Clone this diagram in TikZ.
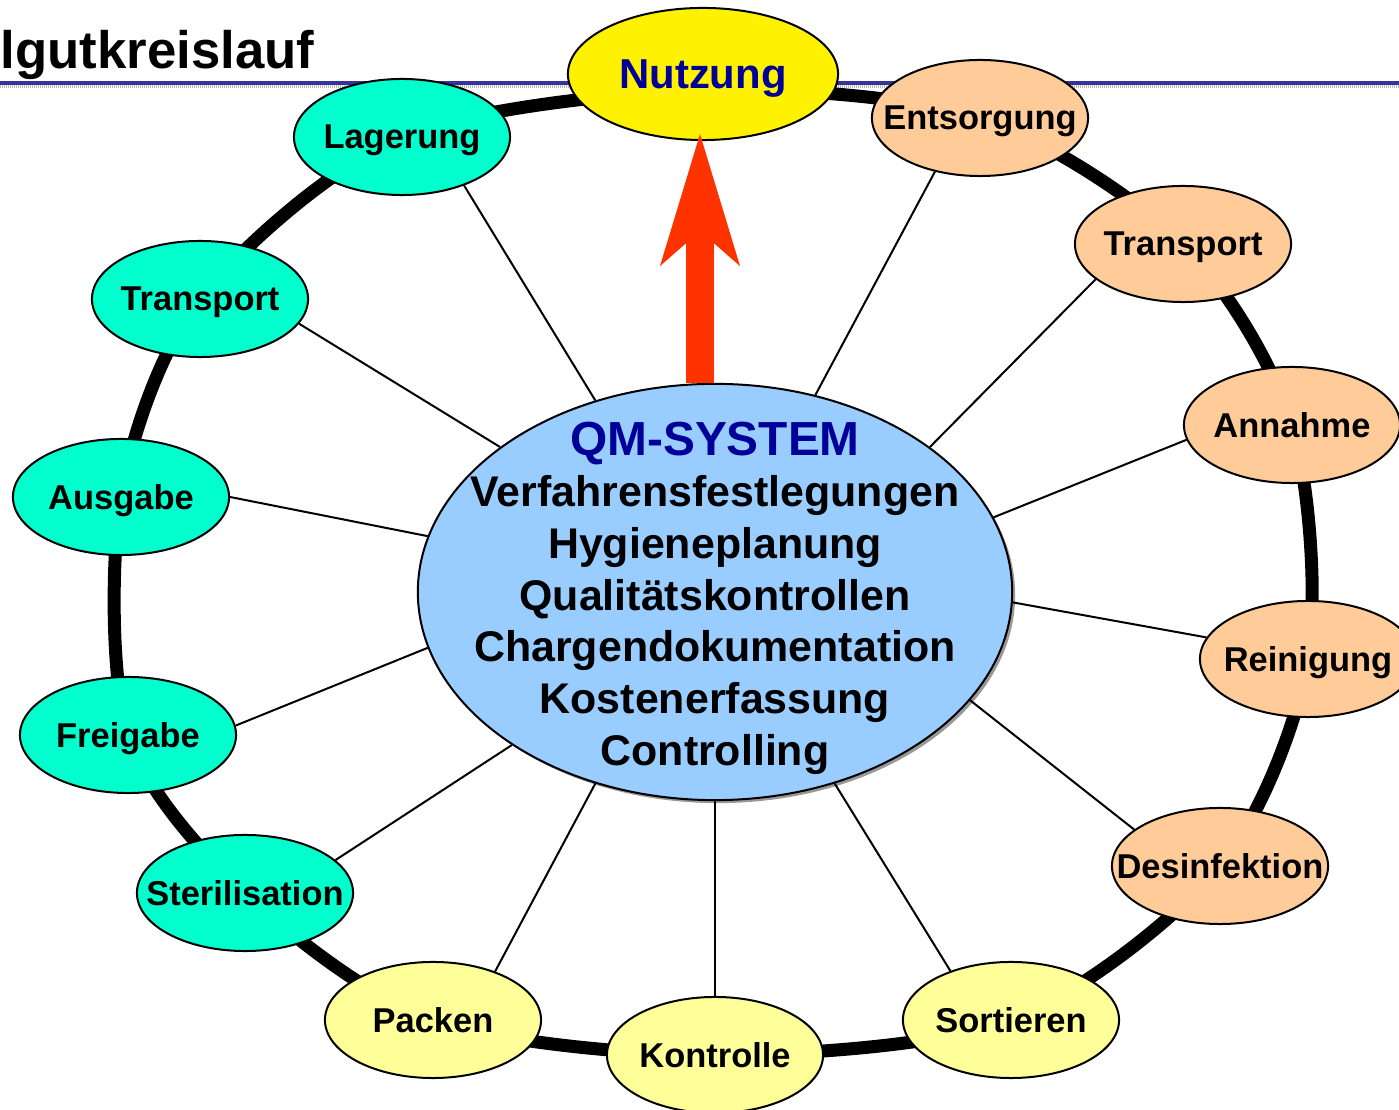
\documentclass[tikz,border=0pt]{standalone}
\usepackage{fontspec}
\setmainfont{Liberation Sans}
\usetikzlibrary{shapes.geometric,arrows.meta,shadows}

\definecolor{mint}{HTML}{00FFCC}
\definecolor{peach}{HTML}{FFCC99}
\definecolor{paleyellow}{HTML}{FFFF99}
\definecolor{qmfill}{HTML}{99CCFF}
\definecolor{qmblue}{HTML}{000099}
\definecolor{headblue}{HTML}{333399}
\definecolor{arrowred}{HTML}{FF3300}

\tikzset{
  station/.style={ellipse, draw=black, line width=0.02cm, inner xsep=-1cm, inner ysep=-0.3cm,
    minimum width=2.16cm, minimum height=1.16cm, text depth=0pt,
    font=\fontsize{9.8}{11}\selectfont\bfseries},
  ring/.style={line width=0.13cm},
  spoke/.style={line width=0.02cm}
}

\begin{document}
\begin{tikzpicture}[x=0.01cm, y=-0.01cm]
  \useasboundingbox (0,0) rectangle (1399,1110);

  % title and header rule
  \node[anchor=base west, inner sep=0pt, font=\fontsize{15}{18}\selectfont\bfseries]
    (title) at (0,69) {lgutkreislauf};
  \draw[headblue, line width=0.04cm] (0,83) -- (1399,83);
  \draw[gray!55, line width=0.03cm, dash pattern=on 0.01cm off 0.01cm] (0,87) -- (1399,87);

  % ring positions
  \coordinate (pnutz) at (703,90);
  \coordinate (pents) at (980,118);
  \coordinate (ptrr) at (1183,244);
  \coordinate (pann) at (1292,425);
  \coordinate (prein) at (1308,659);
  \coordinate (pdes) at (1220,866);
  \coordinate (psort) at (1011,1020);
  \coordinate (pkont) at (715,1055);
  \coordinate (ppack) at (433,1020);
  \coordinate (pster) at (245,893);
  \coordinate (pfrei) at (128,735);
  \coordinate (pausg) at (121,497);
  \coordinate (ptrl) at (200,299);
  \coordinate (plag) at (402,137);

  \draw[ring] plot[smooth cycle] coordinates {(pnutz) (pents) (ptrr) (pann) (prein)
    (pdes) (psort) (pkont) (ppack) (pster) (pfrei) (pausg) (ptrl) (plag)};

  % centre
  \node[ellipse, draw=black, line width=0.02cm, fill=qmfill, inner sep=0pt,
    minimum width=5.94cm, minimum height=4.16cm,
    drop shadow={shadow xshift=0.03cm, shadow yshift=-0.03cm, fill=gray!80, opacity=1}]
    (qm) at (715,592) {};
  \node[align=center, inner sep=0pt, font=\fontsize{12.2}{14.7}\selectfont\bfseries]
    (qmtext) at ([yshift=-0.06cm]qm.center)
    {{\fontsize{13.6}{14.7}\selectfont\color{qmblue}QM-SYSTEM}\\
     Verfahrensfestlegungen\\ Hygieneplanung\\ Qualitätskontrollen\\
     Chargendokumentation\\ Kostenerfassung\\ Controlling};

  % stations
  \node[station, fill=yellow, minimum width=2.7cm, minimum height=1.32cm,
    font=\fontsize{11.9}{13}\selectfont\bfseries\color{qmblue}] (nutz) at (703,74) {Nutzung};
  \node[station, fill=peach] (ents) at (pents) {Entsorgung};
  \node[station, fill=peach] (trr) at (ptrr) {Transport};
  \node[station, fill=peach] (ann) at (pann) {Annahme};
  \node[station, fill=peach] (rein) at (prein) {Reinigung};
  \node[station, fill=peach] (des) at (pdes) {Desinfektion};
  \node[station, fill=paleyellow] (sort) at (psort) {Sortieren};
  \node[station, fill=paleyellow] (kont) at (pkont) {Kontrolle};
  \node[station, fill=paleyellow] (pack) at (ppack) {Packen};
  \node[station, fill=mint] (ster) at (pster) {Sterilisation};
  \node[station, fill=mint] (frei) at (pfrei) {Freigabe};
  \node[station, fill=mint] (ausg) at (pausg) {Ausgabe};
  \node[station, fill=mint] (trl) at (ptrl) {Transport};
  \node[station, fill=mint] (lag) at (plag) {Lagerung};

  % spokes: station / angle at qm / angle at station
  \foreach \s/\a/\b in
    {
        lag/122.2/-38.7, ents/63.1/230.2, trr/34.4/202.2, ann/15/188.7,
        rein/-2.9/168, des/-23.9/157, sort/-58.1/141.6, kont/-90/90,
        pack/238.3/38.4, ster/217.1/20.6, frei/191.7/5.3, ausg/169/0,
        trl/146.4/-14.9
    }
    {
        \draw[spoke] (qm.\a) -- (\s.\b);
    }

  \draw[arrowred, line width=0.27cm, shorten >=-0.07cm,
    -{Stealth[length=1.32cm, width=0.8cm, inset=0.35cm, line width=0pt]}]
    (qm.north -| 700,0) -- (nutz.south -| 700,0);

\end{tikzpicture}
\end{document}
